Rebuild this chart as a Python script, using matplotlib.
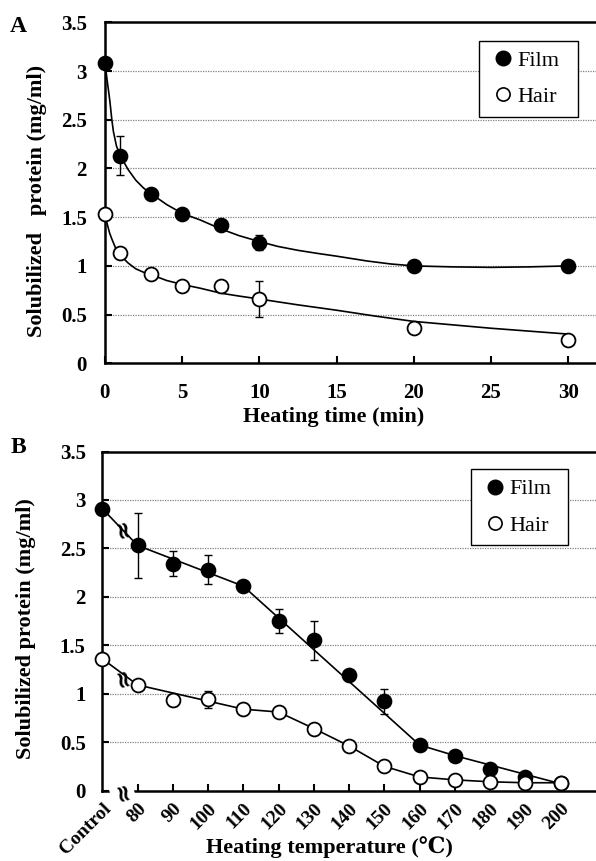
import matplotlib
matplotlib.use("Agg")
import matplotlib.pyplot as plt
from matplotlib.lines import Line2D

plt.rcParams['font.family'] = ['Liberation Serif', 'DejaVu Serif']

# ---------------- Panel A data: heating time ----------------
time_min = [0, 1, 3, 5, 7.5, 10, 20, 30]
film_a = [3.08, 2.13, 1.74, 1.53, 1.42, 1.24, 1.00, 1.00]
film_a_err = [0, 0.20, 0, 0, 0, 0.08, 0, 0]
hair_a = [1.53, 1.13, 0.92, 0.79, 0.79, 0.66, 0.36, 0.24]
hair_a_err = [0, 0, 0, 0, 0, 0.18, 0, 0]

# fitted curves
film_fit_x = [0, 0.08, 0.15, 0.25, 0.33, 0.45, 0.55, 0.75, 1, 1.5, 2, 2.5, 3, 4, 5, 6.2, 7.5, 8.7,
              10, 11.2, 12.5, 13.7, 15, 16, 17, 18.5, 20, 22.5, 25, 27.5, 30]
film_fit_y = [3.08, 2.99, 2.90, 2.78, 2.68, 2.50, 2.38, 2.23, 2.13, 1.99, 1.88, 1.80, 1.74, 1.63, 1.54,
              1.47, 1.38, 1.31, 1.25, 1.20, 1.16, 1.13, 1.10, 1.075, 1.05, 1.02, 1.00, 0.99, 0.985, 0.99, 1.00]
hair_fit_x = [0, 0.1, 0.2, 0.3, 0.44, 0.7, 1, 1.5, 2, 2.5, 3, 4, 5, 6.2, 7.5, 8.7, 10, 12.5, 15,
              17.5, 20, 22.5, 25, 27.5, 30]
hair_fit_y = [1.53, 1.46, 1.40, 1.34, 1.28, 1.18, 1.11, 1.03, 0.97, 0.935, 0.91, 0.85, 0.81, 0.77,
              0.72, 0.69, 0.66, 0.60, 0.545, 0.485, 0.43, 0.395, 0.36, 0.33, 0.30]

# ---------------- Panel B data: heating temperature ----------------
temp_labels = ['Control', '80', '90', '100', '110', '120', '130', '140',
               '150', '160', '170', '180', '190', '200']
film_b = [2.91, 2.53, 2.34, 2.28, 2.11, 1.75, 1.55, 1.19, 0.92, 0.47, 0.36, 0.22, 0.14, 0.08]
film_b_err = [0, 0.34, 0.13, 0.15, 0, 0.125, 0.20, 0, 0.13, 0, 0, 0, 0, 0]
hair_b = [1.36, 1.09, 0.93, 0.94, 0.84, 0.81, 0.64, 0.46, 0.25, 0.14, 0.11, 0.09, 0.075, 0.08]
hair_b_err = [0, 0, 0.06, 0.09, 0, 0, 0, 0, 0, 0, 0, 0, 0, 0]

# connecting lines (vertices, by label index)
film_line_i = [0, 1, 4, 9, 10, 13]
film_line_y = [2.91, 2.53, 2.11, 0.47, 0.36, 0.07]
hair_line_i = [0, 1, 4, 5, 6, 7, 8, 9, 10, 11, 12, 13]
hair_line_y = [1.36, 1.09, 0.84, 0.81, 0.64, 0.46, 0.25, 0.14, 0.11, 0.09, 0.08, 0.08]

W, H = 596, 861
fig = plt.figure(figsize=(W / 100, H / 100), dpi=100)

def px_axes(l, t, r, b):
    return fig.add_axes([l / W, 1 - b / H, (r - l) / W, (b - t) / H])

axA = px_axes(104.9, 22.4, 596, 363.3)
axB = px_axes(102.3, 451.5, 596, 790.5)

mk = dict(markersize=10, markeredgewidth=1.3, markeredgecolor='black', clip_on=False, zorder=5)


def style_axes(ax):
    ax.set_ylim(0, 3.5)
    ax.set_yticks([0, 0.5, 1, 1.5, 2, 2.5, 3, 3.5])
    ax.set_yticklabels(['0', '0.5', '1', '1.5', '2', '2.5', '3', '3.5'])
    for g in [0.5, 1, 1.5, 2, 2.5, 3]:
        ax.axhline(g, color='#808080', lw=0.9, linestyle=(0, (1, 1)), zorder=0)
    for s in ['left', 'bottom', 'top']:
        ax.spines[s].set_linewidth(1.8)
    ax.spines['right'].set_visible(False)
    ax.tick_params(direction='in', length=5, width=1.5, labelsize=15)
    for lab in ax.get_yticklabels() + ax.get_xticklabels():
        lab.set_fontweight('bold')


def legend(ax, x0, y0, w):
    h = [Line2D([], [], marker='o', ls='none', color='black', markersize=10.5),
         Line2D([], [], marker='o', ls='none', markerfacecolor='white',
                markeredgecolor='black', markeredgewidth=1.2, markersize=9.5)]
    leg = ax.legend(h, ['Film', 'Hair'], loc='upper left', mode='expand',
                    bbox_to_anchor=(x0 / W, 1 - (y0 + 74) / H, w / W, 74 / H),
                    bbox_transform=fig.transFigure,
                    fancybox=False, edgecolor='black', framealpha=1, fontsize=16,
                    handlelength=1.25, handletextpad=0.05, labelspacing=0.7,
                    borderpad=0.43, borderaxespad=0)
    leg.get_frame().set_linewidth(1.0)


# ---------------- Panel A ----------------
axA.plot(film_fit_x, film_fit_y, color='black', lw=1.2, zorder=3)
axA.plot(hair_fit_x, hair_fit_y, color='black', lw=1.2, zorder=3)
axA.errorbar(time_min, film_a, yerr=film_a_err, fmt='none', ecolor='black',
             elinewidth=1, capsize=3, zorder=4)
axA.errorbar(time_min, hair_a, yerr=hair_a_err, fmt='none', ecolor='black',
             elinewidth=1, capsize=3, zorder=4)
axA.plot(time_min, film_a, 'o', markerfacecolor='black', **mk)
axA.plot(time_min, hair_a, 'o', markerfacecolor='white', **mk)
axA.set_xlim(0, (596 - 104.9) / 15.44)
axA.set_xticks([0, 5, 10, 15, 20, 25, 30])
style_axes(axA)
axA.tick_params(axis='y', pad=13)
axA.tick_params(axis='x', pad=14)
axA.set_xlabel('Heating time (min)', fontsize=16, fontweight='bold')
axA.set_ylabel('Solubilized   protein (mg/ml)', fontsize=16, fontweight='bold')
axA.xaxis.set_label_coords(0.4665, -0.128)
axA.yaxis.set_label_coords(-0.117, 0.4755)
legend(axA, 479.3, 41, 98.4)

# ---------------- Panel B ----------------
pos = list(range(len(temp_labels)))
axB.plot(film_line_i, film_line_y, color='black', lw=1.2, zorder=3)
axB.plot(hair_line_i, hair_line_y, color='black', lw=1.2, zorder=3)
axB.errorbar(pos, film_b, yerr=film_b_err, fmt='none', ecolor='black',
             elinewidth=1, capsize=3, zorder=4)
axB.errorbar(pos, hair_b, yerr=hair_b_err, fmt='none', ecolor='black',
             elinewidth=1, capsize=3, zorder=4)
axB.plot(pos, film_b, 'o', markerfacecolor='black', **mk)
axB.plot(pos, hair_b, 'o', markerfacecolor='white', **mk)
axB.set_xlim(0, (596 - 102.3) / 35.25)
axB.set_xticks(pos)
axB.set_xticklabels(temp_labels, rotation=45, ha='right', rotation_mode='anchor')
style_axes(axB)
axB.tick_params(axis='y', pad=12)
axB.tick_params(axis='x', pad=7, labelsize=14)
axB.xaxis.get_major_ticks()[0].tick1line.set_visible(False)
# axis-break marks
for yb in [2.71, 1.175, 0.0]:
    axB.text(0.55, yb, '\u2248', rotation=105, fontsize=17, fontweight='bold',
             ha='center', va='center', family='DejaVu Sans', zorder=6, clip_on=False,
             bbox=dict(facecolor='white', edgecolor='none', pad=0) if yb == 0 else None)
axB.set_xlabel('Heating temperature (\u2103)', fontsize=16, fontweight='bold')
axB.set_ylabel('Solubilized protein (mg/ml)', fontsize=16, fontweight='bold')
axB.xaxis.set_label_coords(0.461, -0.136)
axB.yaxis.set_label_coords(-0.134, 0.4786)
legend(axB, 471.3, 469.3, 96.2)

fig.text(9.5 / W, 1 - 31.7 / H, 'A', fontsize=17, fontweight='bold', va='baseline')
fig.text(11 / W, 1 - 453 / H, 'B', fontsize=17, fontweight='bold', va='baseline')

fig.savefig('out.png', dpi=100)
